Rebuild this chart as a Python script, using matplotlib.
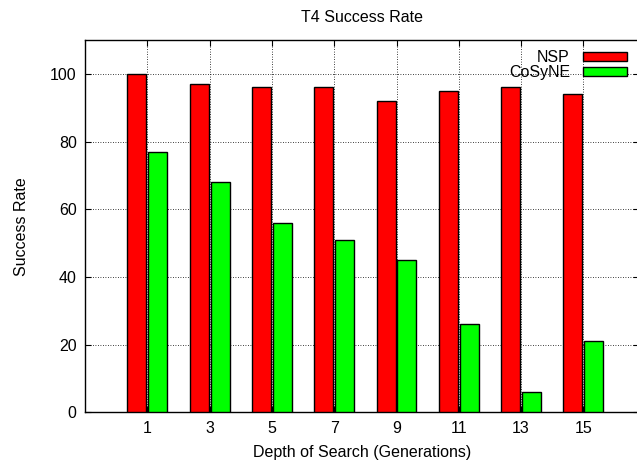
import matplotlib
matplotlib.use("Agg")
import matplotlib.pyplot as plt
import numpy as np

plt.rcParams['font.family'] = ['Liberation Sans', 'DejaVu Sans']

depths = ["1", "3", "5", "7", "9", "11", "13", "15"]
nsp = [100, 97, 96, 96, 92, 95, 96, 94]
cosyne = [77, 68, 56, 51, 45, 26, 6, 21]
series_names = ["NSP", "CoSyNE"]
colors = ["#ff0000", "#00ff00"]

FS = 11.5
fig = plt.figure(figsize=(6.37, 4.61), dpi=100)
ax_w_px = 637 - 85 + 2
ax = fig.add_axes([85/637, 1-412.3/461, ax_w_px/637, (412.3-40)/461])

x = np.arange(len(depths))
w = 0.305
off = 0.168
ax.bar(x - off, nsp, w, color=colors[0], edgecolor='black', linewidth=1.0, label=series_names[0], zorder=3)
ax.bar(x + off, cosyne, w, color=colors[1], edgecolor='black', linewidth=1.0, label=series_names[1], zorder=3)

ax.set_xlim(-1.0, -1.0 + ax_w_px/62.3)
ax.set_ylim(0, 110)
ax.set_xticks(x)
ax.set_xticklabels(depths)
ax.set_yticks(np.arange(0, 101, 20))
ax.tick_params(axis='both', direction='in', length=4.5, width=0.8, labelsize=FS,
               top=True, right=True)
ax.tick_params(axis='x', pad=6.5)
ax.tick_params(axis='y', pad=6)
ax.grid(True, color='black', linestyle=(0, (1, 2)), linewidth=0.6, zorder=0)
ax.set_axisbelow(True)
for s in ax.spines.values():
    s.set_linewidth(1.0)

ax.set_title("T4 Success Rate", fontsize=FS, pad=13)
ax.set_xlabel("Depth of Search (Generations)", fontsize=FS, labelpad=6)
ax.set_ylabel("Success Rate", fontsize=FS, labelpad=15)

leg = ax.legend(loc='upper right', bbox_to_anchor=((626.7-85)/ax_w_px, (412.3-50)/372.3),
                frameon=False, markerfirst=False, fontsize=FS,
                handlelength=2.75, handleheight=0.46, handletextpad=0.8,
                labelspacing=0.0, borderaxespad=0, borderpad=0)
for t in leg.get_texts():
    t.set_ha('right')

fig.savefig("out.png", dpi=100)
